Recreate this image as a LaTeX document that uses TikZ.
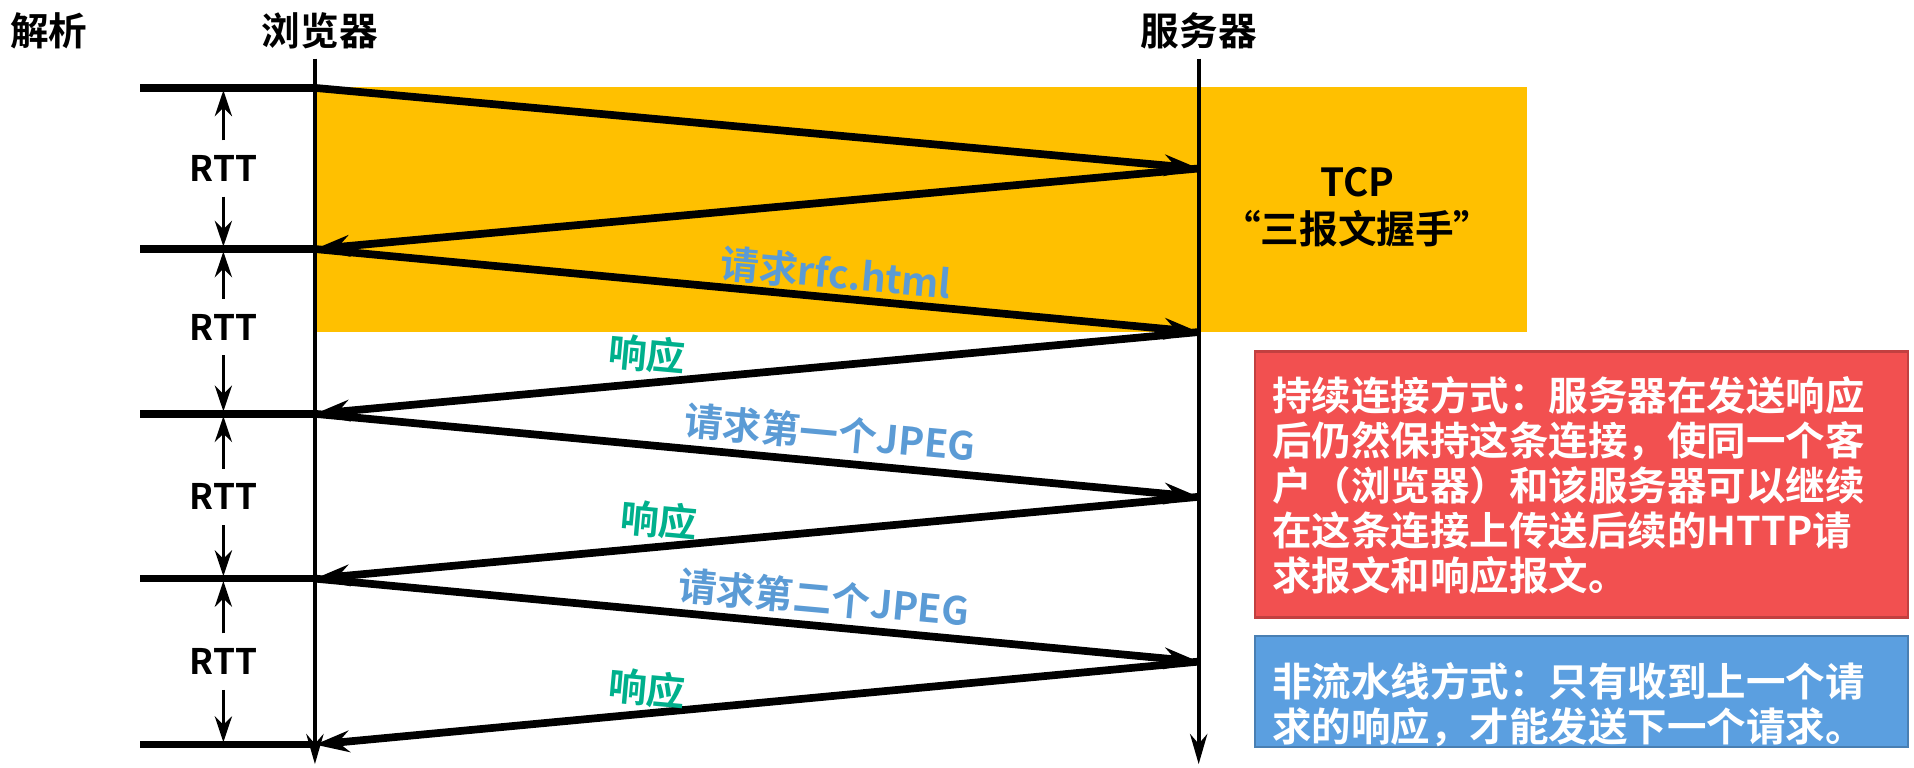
\documentclass[tikz,border=0pt]{standalone}
\usepackage{fontspec}
\setmainfont{Noto Sans CJK SC Bold}
\usetikzlibrary{arrows.meta}
\definecolor{orng}{HTML}{FFC000}
\definecolor{redb}{HTML}{F25050}
\definecolor{blueb}{HTML}{5B9FE0}
\definecolor{lblue}{HTML}{5B9BD5}
\definecolor{lgreen}{HTML}{00B08C}
\begin{document}
\begin{tikzpicture}[x=0.01cm,y=-0.01cm,
  msg/.style={line width=1.8pt,-{Stealth[length=8pt,width=5pt]}},
  life/.style={line width=1pt,-{Stealth[length=7pt,width=4pt]}},
  tick/.style={line width=1.8pt},
  rtt/.style={line width=0.8pt,-{Stealth[length=6pt,width=4pt]}},
  title/.style={font=\fontsize{9}{11}\selectfont},
  rttl/.style={font=\fontsize{8.2}{9}\selectfont},
  lab/.style={font=\fontsize{9}{10}\selectfont,rotate=-5.2},
  boxt/.style={font=\fontsize{9.2}{10.5}\selectfont,text=white,align=left,anchor=north west}]
\useasboundingbox (0,0) rectangle (1568,629);
\fill[orng] (258,71) rectangle (1251,272);
\node[title] (t1) at (40,25) {解析};
\node[title] (t2) at (262,25) {浏览器};
\node[title] (t3) at (982,25) {服务器};
\coordinate (bt) at (258,48); \coordinate (bb) at (258,626);
\coordinate (st) at (982,48); \coordinate (sb) at (982,626);
\draw[life] (bt) -- (bb);
\draw[life] (st) -- (sb);
\foreach \i/\y in {1/72,2/204,3/339,4/474,5/610}{
  \coordinate (L\i) at (115,\y); \coordinate (B\i) at (258,\y);
  \draw[tick] (L\i) -- (B\i);}
\foreach \i/\y in {1/138,2/272,3/407,4/542}{\coordinate (S\i) at (982,\y);}
\draw[msg] (B1) -- (S1);
\draw[msg] (S1) -- (B2);
\draw[msg] (B2) -- (S2);
\draw[msg] (S2) -- (B3);
\draw[msg] (B3) -- (S3);
\draw[msg] (S3) -- (B4);
\draw[msg] (B4) -- (S4);
\draw[msg] (S4) -- (B5);
\foreach \i/\a/\b/\m in {1/72/204/138,2/204/339/268,3/339/474/407,4/474/610/542}{
  \node[rttl] (R\i) at (183,\m) {RTT};
  \draw[rtt] (R\i.north) -- (183,\a+2);
  \draw[rtt] (R\i.south) -- (183,\b-2);}
\node[lab,text=lblue] (q1) at (685,224) {请求rfc.html};
\node[lab,text=lgreen] (r1) at (530,290) {响应};
\node[lab,text=lblue] (q2) at (680,355) {请求第一个JPEG};
\node[lab,text=lgreen] (r2) at (540,426) {响应};
\node[lab,text=lblue] (q3) at (675,490) {请求第二个JPEG};
\node[lab,text=lgreen] (r3) at (530,564) {响应};
\node[title,align=center] (tcp) at (1112,170) {TCP\\“三报文握手”};
\draw[fill=redb,draw=redb!80!black,line width=0.6pt] (1028,288) rectangle (1563,506);
\node[boxt] (rt) at (1030,296) {持续连接方式：服务器在发送响应\\后仍然保持这条连接，使同一个客\\户（浏览器）和该服务器可以继续\\在这条连接上传送后续的HTTP请\\求报文和响应报文。};
\draw[fill=blueb,draw=blueb!80!black,line width=0.6pt] (1028,521) rectangle (1563,612);
\node[boxt] (bl) at (1030,530) {非流水线方式：只有收到上一个请\\求的响应，才能发送下一个请求。};
\end{tikzpicture}
\end{document}
